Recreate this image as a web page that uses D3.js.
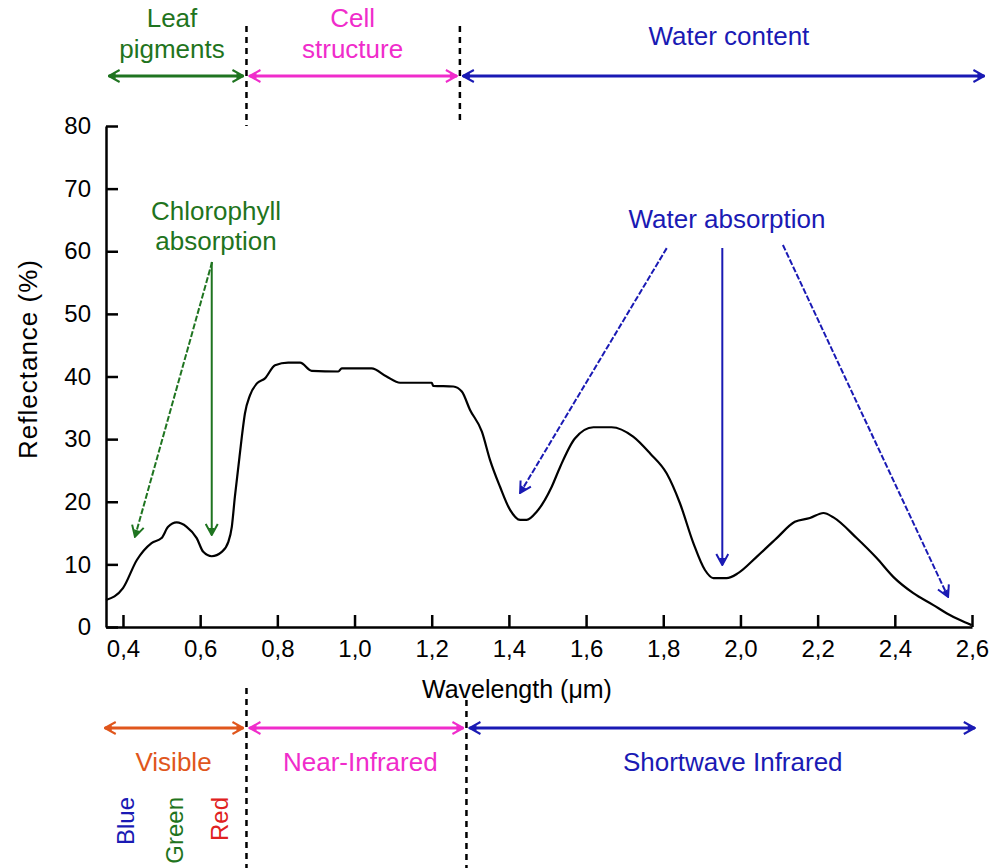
<!DOCTYPE html>
<html>
<head>
<meta charset="utf-8">
<script src="https://cdn.jsdelivr.net/npm/d3@7"></script>
<style>
body { margin: 0; background: #fff; }
svg text { font-family: "Liberation Sans", Arial, sans-serif; }
</style>
</head>
<body>
<svg id="chart" width="996" height="868"></svg>
<script>
// reflectance curve of a green leaf
var wavelength = [0.356, 0.40, 0.436, 0.474, 0.50, 0.517, 0.539, 0.565, 0.591, 0.608, 0.630, 0.656, 0.673, 0.682,
  0.690, 0.699, 0.708, 0.716, 0.729, 0.747, 0.768, 0.794, 0.828, 0.859, 0.889, 0.958, 0.967, 1.044, 1.083, 1.118,
  1.200, 1.204, 1.256, 1.278, 1.299, 1.330, 1.351, 1.377, 1.403, 1.429, 1.446, 1.472, 1.511, 1.533, 1.571, 1.619,
  1.666, 1.722, 1.766, 1.809, 1.843, 1.878, 1.908, 1.930, 1.964, 1.994, 2.042, 2.094, 2.141, 2.180, 2.215, 2.241,
  2.301, 2.353, 2.396, 2.448, 2.500, 2.534, 2.569, 2.599];
var reflectance = [4.3, 6.2, 10.7, 13.4, 14.2, 16.0, 16.7, 16.0, 14.2, 12.0, 11.3, 12.0, 13.6, 16.0,
  20.8, 25.6, 30.4, 34.1, 37.0, 38.9, 39.7, 41.8, 42.2, 42.2, 40.9, 40.8, 41.3, 41.3, 40.0, 39.0,
  39.0, 38.5, 38.4, 37.6, 34.7, 31.2, 26.7, 22.4, 18.7, 17.1, 17.1, 18.4, 22.4, 25.6, 30.1, 31.9,
  31.9, 30.4, 27.7, 24.5, 19.8, 13.4, 9.1, 7.8, 7.8, 8.6, 11.2, 14.2, 16.8, 17.4, 18.2, 17.5,
  14.2, 11.0, 8.0, 5.4, 3.5, 2.2, 1.1, 0.3];

var xTicks = [0.4, 0.6, 0.8, 1.0, 1.2, 1.4, 1.6, 1.8, 2.0, 2.2, 2.4, 2.6];
var yTicks = [0, 10, 20, 30, 40, 50, 60, 70, 80];

// what drives reflectance (top) and the spectral regions (bottom), in µm
var topBands = [
  {label: ["Leaf", "pigments"], from: 0.355, to: 0.72, at: 0.527, color: "#1f7420"},
  {label: ["Cell", "structure"], from: 0.72, to: 1.273, at: 0.995, color: "#f02ccb"},
  {label: ["Water content"], from: 1.273, to: 2.64, at: 1.97, color: "#1a1ab4"}
];
var bottomBands = [
  {label: "Visible", from: 0.345, to: 0.72, at: 0.531, color: "#e0561c"},
  {label: "Near-Infrared", from: 0.72, to: 1.29, at: 1.015, color: "#f02ccb"},
  {label: "Shortwave Infrared", from: 1.29, to: 2.615, at: 1.98, color: "#1a1ab4"}
];
var colorNames = [
  {label: "Blue", at: 0.405, color: "#1a1ab4"},
  {label: "Green", at: 0.532, color: "#1f7420"},
  {label: "Red", at: 0.651, color: "#e02020"}
];

// absorption call-outs: text anchor and arrows [x1, y1, x2, y2, dashed] in data units
var chlorophyll = {text: ["Chlorophyll", "absorption"], x: 0.641, y: [65.0, 60.2], color: "#1f7420",
  arrows: [[0.631, 58.3, 0.431, 14.4, true], [0.630, 58.3, 0.630, 14.7, false]]};
var water = {text: ["Water absorption"], x: 1.965, y: [63.7], color: "#1a1ab4",
  arrows: [[1.809, 60.5, 1.429, 21.4, true], [1.953, 60.5, 1.953, 9.9, false], [2.110, 61.0, 2.538, 4.8, true]]};

var svg = d3.select("#chart");

var x = d3.scaleLinear().domain([0.356, 2.6]).range([106, 972]);
var y = d3.scaleLinear().domain([0, 80]).range([627, 126]);

// one arrow head marker per colour
var defs = svg.append("defs");
function marker(color) {
  var id = "head" + color.replace("#", "");
  if (!defs.select("#" + id).empty()) return "url(#" + id + ")";
  var m = defs.append("marker").attr("id", id)
    .attr("viewBox", "0 -7 13 14").attr("refX", 12).attr("refY", 0)
    .attr("markerUnits", "userSpaceOnUse").attr("markerWidth", 13).attr("markerHeight", 14)
    .attr("orient", "auto-start-reverse");
  m.append("path").attr("d", "M1,-6L12,0L1,6").attr("fill", "none")
    .attr("stroke", color).attr("stroke-width", 2);
  m.append("path").attr("d", "M5,-3L12,0L5,3Z").attr("fill", color);
  return "url(#" + id + ")";
}

// axes
var xAxis = d3.axisBottom(x).tickValues(xTicks).tickSizeInner(-12).tickSizeOuter(0).tickPadding(13)
  .tickFormat(function(d) { return d.toFixed(1).replace(".", ","); });
var yAxis = d3.axisLeft(y).tickValues(yTicks).tickSizeInner(-12).tickSizeOuter(0).tickPadding(15);

var gx = svg.append("g").attr("transform", "translate(0," + y(0) + ")").call(xAxis);
var gy = svg.append("g").attr("transform", "translate(" + x.range()[0] + ",0)").call(yAxis);
[gx, gy].forEach(function(g) {
  g.select(".domain").attr("stroke", "#000").attr("stroke-width", 2.5);
  g.selectAll(".tick line").attr("stroke", "#000").attr("stroke-width", 2.5);
  g.selectAll(".tick text").attr("fill", "#000").style("font-size", "24px")
    .style("font-family", "'Liberation Sans', Arial, sans-serif");
});

svg.append("text").attr("x", (x.range()[0] + x.range()[1]) / 2 - 22).attr("y", 698)
  .attr("text-anchor", "middle").style("font-size", "25px").text("Wavelength (μm)");
svg.append("text").attr("transform", "translate(28,359) rotate(-90)").attr("dy", "0.35em")
  .attr("text-anchor", "middle").style("font-size", "26px").style("letter-spacing", "1px")
  .text("Reflectance (%)");

// curve
var pts = wavelength.map(function(w, i) { return [w, reflectance[i]]; });
svg.append("path").datum(pts)
  .attr("fill", "none").attr("stroke", "#000").attr("stroke-width", 2.2)
  .attr("d", d3.line().x(function(d) { return x(d[0]); }).y(function(d) { return y(d[1]); })
    .curve(d3.curveMonotoneX));

// band separators
function separator(w, y1, y2) {
  svg.append("line").attr("x1", x(w)).attr("x2", x(w)).attr("y1", y1).attr("y2", y2)
    .attr("stroke", "#000").attr("stroke-width", 2.5).attr("stroke-dasharray", "6,5");
}
separator(topBands[1].from, 26, 126);
separator(topBands[2].from, 26, 122);
separator(bottomBands[1].from, 688, 868);
separator(bottomBands[2].from, 700, 868);

function rangeArrow(b, yy) {
  svg.append("line").attr("x1", x(b.from) + 3).attr("x2", x(b.to) - 3).attr("y1", yy).attr("y2", yy)
    .attr("stroke", b.color).attr("stroke-width", 3)
    .attr("marker-start", marker(b.color)).attr("marker-end", marker(b.color));
}

topBands.forEach(function(b) {
  rangeArrow(b, 76);
  var base = b.label.length > 1 ? [27, 58] : [45];
  b.label.forEach(function(t, i) {
    svg.append("text").attr("x", x(b.at)).attr("y", base[i]).attr("text-anchor", "middle")
      .attr("fill", b.color).style("font-size", "26px").text(t);
  });
});

bottomBands.forEach(function(b) {
  rangeArrow(b, 728);
  svg.append("text").attr("x", x(b.at)).attr("y", 771).attr("text-anchor", "middle")
    .attr("fill", b.color).style("font-size", "26px").text(b.label);
});

colorNames.forEach(function(c) {
  svg.append("text").attr("transform", "translate(" + x(c.at) + ",797) rotate(-90)")
    .attr("dy", "0.36em").attr("text-anchor", "end").attr("fill", c.color)
    .style("font-size", "24px").text(c.label);
});

// call-outs
[chlorophyll, water].forEach(function(a) {
  a.text.forEach(function(t, i) {
    svg.append("text").attr("x", x(a.x)).attr("y", y(a.y[i])).attr("text-anchor", "middle")
      .attr("fill", a.color).style("font-size", "26px").text(t);
  });
  a.arrows.forEach(function(r) {
    svg.append("line").attr("x1", x(r[0])).attr("y1", y(r[1])).attr("x2", x(r[2])).attr("y2", y(r[3]))
      .attr("stroke", a.color).attr("stroke-width", 2)
      .attr("stroke-dasharray", r[4] ? "6,2" : null)
      .attr("marker-end", marker(a.color));
  });
});
</script>
</body>
</html>
